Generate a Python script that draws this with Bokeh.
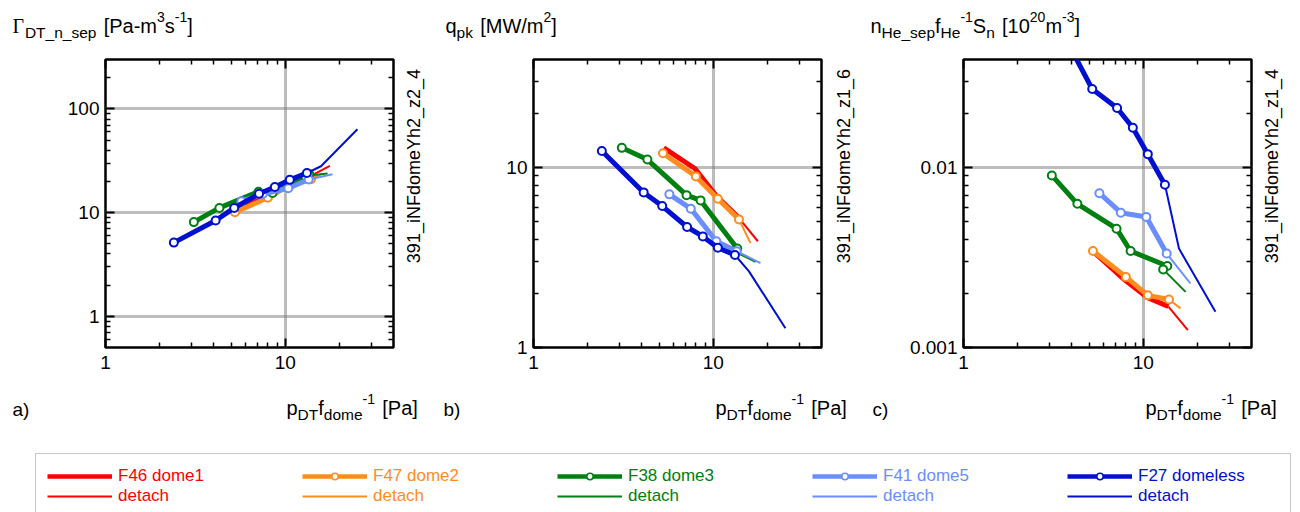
import math
from bokeh.plotting import figure
from bokeh.models import (FixedTicker, LogAxis, Legend, LegendItem, Range1d, BoxAnnotation,
                          CustomJSTickFormatter)
from bokeh.layouts import column, row
from bokeh.embed import file_html
from bokeh.resources import INLINE
from bokeh.core.properties import value

# ---------------- data ----------------
series_names = ["F46 dome1", "F47 dome2", "F38 dome3", "F41 dome5", "F27 domeless"]
series_colors = ["#ff0000", "#ff8c1e", "#008010", "#6b8eff", "#0010d0"]
series_markers = [False, True, True, True, True]

# x: p_DT f_dome^-1 [Pa]
f46_x = [5.3, 7.9, 10.5, 13.8]
f46_det_x = [13.8, 17.7]
f47_x = [5.25, 8.0, 10.6, 13.9]
f47_det_x = [13.9, 16.1]
f38_x = [3.1, 4.3, 7.1, 8.5, 13.6, 12.9]
f38_det_x = [12.9, 17.2]
f41_x = [5.7, 7.5, 10.4, 13.5]
f41_det_x = [13.5, 18.3]
f27_x = [2.4, 4.1, 5.2, 7.15, 8.75, 10.6, 13.2]
f27_det_x = [13.2, 15.8, 25.2]

# panel a: Gamma_DT_n_sep [Pa-m3s-1]
a_f46 = [10.4, 14.5, 19.0, 22.5]
a_f46_det = [22.5, 28.2]
a_f47 = [10.1, 13.9, 18.5, 21.0]
a_f47_det = [21.0, 23.8]
a_f38 = [8.1, 11.1, 15.9, 15.5, 23.4, 22.6]
a_f38_det = [22.6, 23.8]
a_f41 = [12.9, 15.1, 17.2, 20.9]
a_f41_det = [20.9, 23.4]
a_f27 = [5.14, 8.4, 11.1, 15.2, 17.7, 20.7, 24.1]
a_f27_det = [24.1, 28.0, 63.7]

# panel b: q_pk [MW/m2]
b_f46 = [12.9, 9.9, 6.9, 5.3]
b_f46_det = [5.3, 3.9]
b_f47 = [12.05, 8.95, 6.72, 5.16]
b_f47_det = [5.16, 3.81]
b_f38 = [12.9, 11.1, 7.04, 6.58, 3.55, 3.45]
b_f38_det = [3.45, 3.0]
b_f41 = [7.11, 5.92, 3.90, 3.43]
b_f41_det = [3.43, 2.95]
b_f27 = [12.4, 7.29, 6.12, 4.68, 4.15, 3.59, 3.27]
b_f27_det = [3.27, 2.65, 1.28]

# panel c: n_He_sep f_He^-1 S_n [10^20 m^-3]
c_f46 = [0.0034, 0.00237, 0.0019, 0.00169]
c_f46_det = [0.00169, 0.00125]
c_f47 = [0.00344, 0.00247, 0.00195, 0.00185]
c_f47_det = [0.00185, 0.00165]
c_f38 = [0.00906, 0.0063, 0.00458, 0.00344, 0.00284, 0.00272]
c_f38_det = [0.00272, 0.00204]
c_f41 = [0.00722, 0.00562, 0.00532, 0.00333]
c_f41_det = [0.00333, 0.00227]
c_f27 = [0.075, 0.043, 0.0274, 0.0215, 0.0167, 0.0119, 0.00805]
c_f27_det = [0.00805, 0.00355, 0.00158]

x_lo, x_hi = 1, 40
a_range = (0.5, 300)
b_range = (1, 40)
c_range = (0.001, 0.04)

xs = [f46_x, f47_x, f38_x, f41_x, f27_x]
xds = [f46_det_x, f47_det_x, f38_det_x, f41_det_x, f27_det_x]
panel_a = [(a_f46, a_f46_det), (a_f47, a_f47_det), (a_f38, a_f38_det), (a_f41, a_f41_det), (a_f27, a_f27_det)]
panel_b = [(b_f46, b_f46_det), (b_f47, b_f47_det), (b_f38, b_f38_det), (b_f41, b_f41_det), (b_f27, b_f27_det)]
panel_c = [(c_f46, c_f46_det), (c_f47, c_f47_det), (c_f38, c_f38_det), (c_f41, c_f41_det), (c_f27, c_f27_det)]

title_a = [("Γ", "g"), ("DT_n_sep", "b"), (" [Pa-m", "m"), ("3", "p"), ("s", "m"), ("-1", "p"), ("]", "m")]
title_b = [("q", "m"), ("pk", "b"), (" [MW/m", "m"), ("2", "p"), ("]", "m")]
title_c = [("n", "m"), ("He_sep", "b"), ("f", "m"), ("He", "b"), ("-1", "p"), ("S", "m"), ("n", "b"),
           (" [10", "m"), ("20", "p"), ("m", "m"), ("-3", "p"), ("]", "m")]
x_label = [("p", "m"), ("DT", "b"), ("f", "m"), ("dome", "b"), ("-1", "p"), (" [Pa]", "m")]
side_texts = ["391_iNFdomeYh2_z2_4", "391_iNFdomeYh2_z1_6", "391_iNFdomeYh2_z1_4"]
tags = ["a)", "b)", "c)"]

# ---------------- helpers ----------------
SANS = "Liberation Sans"
SERIF = "Liberation Serif"
W = {' ': 278, '-': 333, '[': 278, ']': 278, '/': 278, '_': 556, '.': 278, ')': 333, '(': 333,
     'A': 667, 'B': 667, 'C': 722, 'D': 722, 'E': 667, 'F': 611, 'G': 778, 'H': 722, 'I': 278,
     'J': 500, 'K': 667, 'L': 556, 'M': 833, 'N': 722, 'O': 778, 'P': 667, 'Q': 778, 'R': 722,
     'S': 667, 'T': 611, 'U': 722, 'V': 667, 'W': 944, 'X': 667, 'Y': 667, 'Z': 611,
     'a': 556, 'b': 556, 'c': 500, 'd': 556, 'e': 556, 'f': 278, 'g': 556, 'h': 556, 'i': 222,
     'j': 222, 'k': 500, 'l': 222, 'm': 833, 'n': 556, 'o': 556, 'p': 556, 'q': 556, 'r': 333,
     's': 500, 't': 278, 'u': 556, 'v': 500, 'w': 722, 'x': 500, 'y': 500, 'z': 500, 'Γ': 620}
for d in "0123456789":
    W[d] = 556


def text_width(t, size):
    return sum(W.get(ch, 556) for ch in t) * size / 1000.0


MAIN, SUB, SUP = 20, 15.5, 14
KIND = {"m": (MAIN, 0, SANS), "g": (MAIN, 0, SERIF), "b": (SUB, -7, SANS), "p": (SUP, 9, SANS)}
TICK_FONT = "19px"


def strip(width, height):
    s = figure(width=width, height=height, x_range=Range1d(0, width), y_range=Range1d(0, height),
               x_axis_type=None, y_axis_type=None,
               output_backend="svg", toolbar_location=None, min_border=0)
    s.outline_line_color = None
    s.border_fill_color = "white"
    s.background_fill_color = "white"
    return s


def rich_text(s, x, y, pieces):
    cx = x
    for txt, kind in pieces:
        size, dy, font = KIND[kind]
        stripped = txt.lstrip(" ")
        cx += text_width(txt[:len(txt) - len(stripped)], size) * 1.3
        s.text(x=[cx], y=[y + dy], text=[stripped], text_font=value(font),
               text_font_size=value(f"{size}px"), text_align="left",
               text_baseline="alphabetic", text_color="black")
        cx += text_width(stripped, size)


def decade_ticks(lo, hi):
    maj, mnr = [], []
    for e in range(int(math.floor(math.log10(lo))) - 1, int(math.ceil(math.log10(hi))) + 1):
        d = float(10 ** e) if e >= 0 else 1.0 / float(10 ** (-e))
        if lo * 0.999 <= d <= hi * 1.001:
            maj.append(d)
        for k in range(2, 10):
            v = float(k * 10 ** e) if e >= 0 else float(k) / float(10 ** (-e))
            if lo < v < hi:
                mnr.append(v)
    return maj, mnr


def style_axis(ax, maj, mnr, labels, standoff):
    ax.ticker = FixedTicker(ticks=maj, minor_ticks=mnr)
    ax.major_tick_in = 9
    ax.major_tick_out = 0
    ax.minor_tick_in = 5
    ax.minor_tick_out = 0
    ax.major_tick_line_width = 2
    ax.minor_tick_line_width = 1.5
    ax.major_tick_line_color = "black"
    ax.minor_tick_line_color = "black"
    ax.axis_line_color = None
    ax.major_label_standoff = standoff
    ax.major_label_text_font = SANS
    ax.major_label_text_font_size = TICK_FONT
    ax.major_label_text_color = "black"
    if labels:
        ax.formatter = CustomJSTickFormatter(code="return String(Number(tick.toPrecision(6)));")
    else:
        ax.formatter = CustomJSTickFormatter(code="return '';")
        ax.major_label_text_font_size = "0px"


FRAME = 288
TITLE_H = 49
PANEL_H = 333
BOT_H = 63
LEG_H = 512 - TITLE_H - PANEL_H - BOT_H
P_TOP, P_BOT = 10, PANEL_H - 10 - FRAME


def make_panel(width, left, yr, data):
    right = width - left - FRAME
    p = figure(width=width, height=PANEL_H, x_axis_type="log", y_axis_type="log",
               x_range=Range1d(x_lo, x_hi), y_range=Range1d(*yr),
               output_backend="svg", toolbar_location=None,
               min_border_left=left, min_border_right=right,
               min_border_top=P_TOP, min_border_bottom=P_BOT)
    p.background_fill_color = "white"
    p.border_fill_color = "white"
    p.outline_line_color = "black"
    p.outline_line_width = 2.5

    xmaj, xmnr = decade_ticks(x_lo, x_hi)
    ymaj, ymnr = decade_ticks(*yr)
    style_axis(p.xaxis[0], xmaj, xmnr, True, 8)
    style_axis(p.yaxis[0], ymaj, ymnr, True, 6)
    top = LogAxis()
    style_axis(top, xmaj, xmnr, False, 0)
    p.add_layout(top, "above")
    rgt = LogAxis()
    style_axis(rgt, ymaj, ymnr, False, 0)
    p.add_layout(rgt, "right")

    p.xgrid.ticker = FixedTicker(ticks=xmaj)
    p.ygrid.ticker = FixedTicker(ticks=ymaj)
    for g in (p.xgrid, p.ygrid):
        g.grid_line_color = "#7a7a7a"
        g.grid_line_width = 3
        g.grid_line_dash = "1 1"

    for i in range(5):
        yv, yd = data[i]
        c = series_colors[i]
        p.line(xds[i], yd, line_color=c, line_width=2)
        p.line(xs[i], yv, line_color=c, line_width=5, line_join="round")
        if series_markers[i]:
            p.scatter(xs[i], yv, marker="circle", size=8, fill_color="white",
                      line_color=c, line_width=2)
    return p


# ---------------- title strip ----------------
ts = strip(1300, TITLE_H)
for tx, pieces in zip([12, 445, 870], [title_a, title_b, title_c]):
    rich_text(ts, tx, TITLE_H - 25, pieces)

# ---------------- panels + side strips ----------------
pa = make_panel(400, 105, a_range, panel_a)
pb = make_panel(400, 103, b_range, panel_b)
pc = make_panel(398, 103, c_range, panel_c)
side_w = [30, 30, 42]
sides = []
for k in range(3):
    s = strip(side_w[k], PANEL_H)
    s.text(x=[13], y=[PANEL_H - 11], text=[side_texts[k]], angle=math.pi / 2,
           text_align="right", text_baseline="middle", text_font=value(SANS),
           text_font_size=value("18px"), text_color="black")
    sides.append(s)

# ---------------- bottom strip (axis titles, panel tags) ----------------
bs = strip(1300, BOT_H)
for lx in [286, 715, 1145]:
    rich_text(bs, lx, BOT_H - 25, x_label)
bs.text(x=[12, 443, 872], y=[BOT_H - 27] * 3, text=tags, text_font=value(SANS),
        text_font_size=value("19px"), text_align="left", text_baseline="alphabetic",
        text_color="black")

# ---------------- legend ----------------
leg = strip(1300, LEG_H)
leg.add_layout(BoxAnnotation(left=35, right=1290, bottom=-10, top=LEG_H - 8,
                             fill_alpha=0, line_color="#444444", line_width=1))
nan = float("nan")
for i in range(5):
    c = series_colors[i]
    r_thick = leg.line([nan], [nan], line_color=c, line_width=4.5)
    rend = [r_thick]
    if series_markers[i]:
        rend.append(leg.scatter([nan], [nan], marker="circle", size=6, fill_color="white",
                                line_color=c, line_width=1.5))
    r_thin = leg.line([nan], [nan], line_color=c, line_width=2)
    L = Legend(items=[LegendItem(label=series_names[i], renderers=rend),
                      LegendItem(label="detach", renderers=[r_thin])],
               location=(47 + 255 * i, 6), orientation="vertical",
               glyph_width=65, glyph_height=16, label_height=16, label_width=10,
               spacing=-4, padding=0, margin=0, label_standoff=6,
               border_line_color=None, background_fill_alpha=0,
               label_text_color=c, label_text_font=SANS, label_text_font_size="17px")
    leg.add_layout(L)

layout = column(ts, row(pa, sides[0], pb, sides[1], pc, sides[2]), bs, leg)
open("out.html", "w").write(file_html(layout, INLINE))
